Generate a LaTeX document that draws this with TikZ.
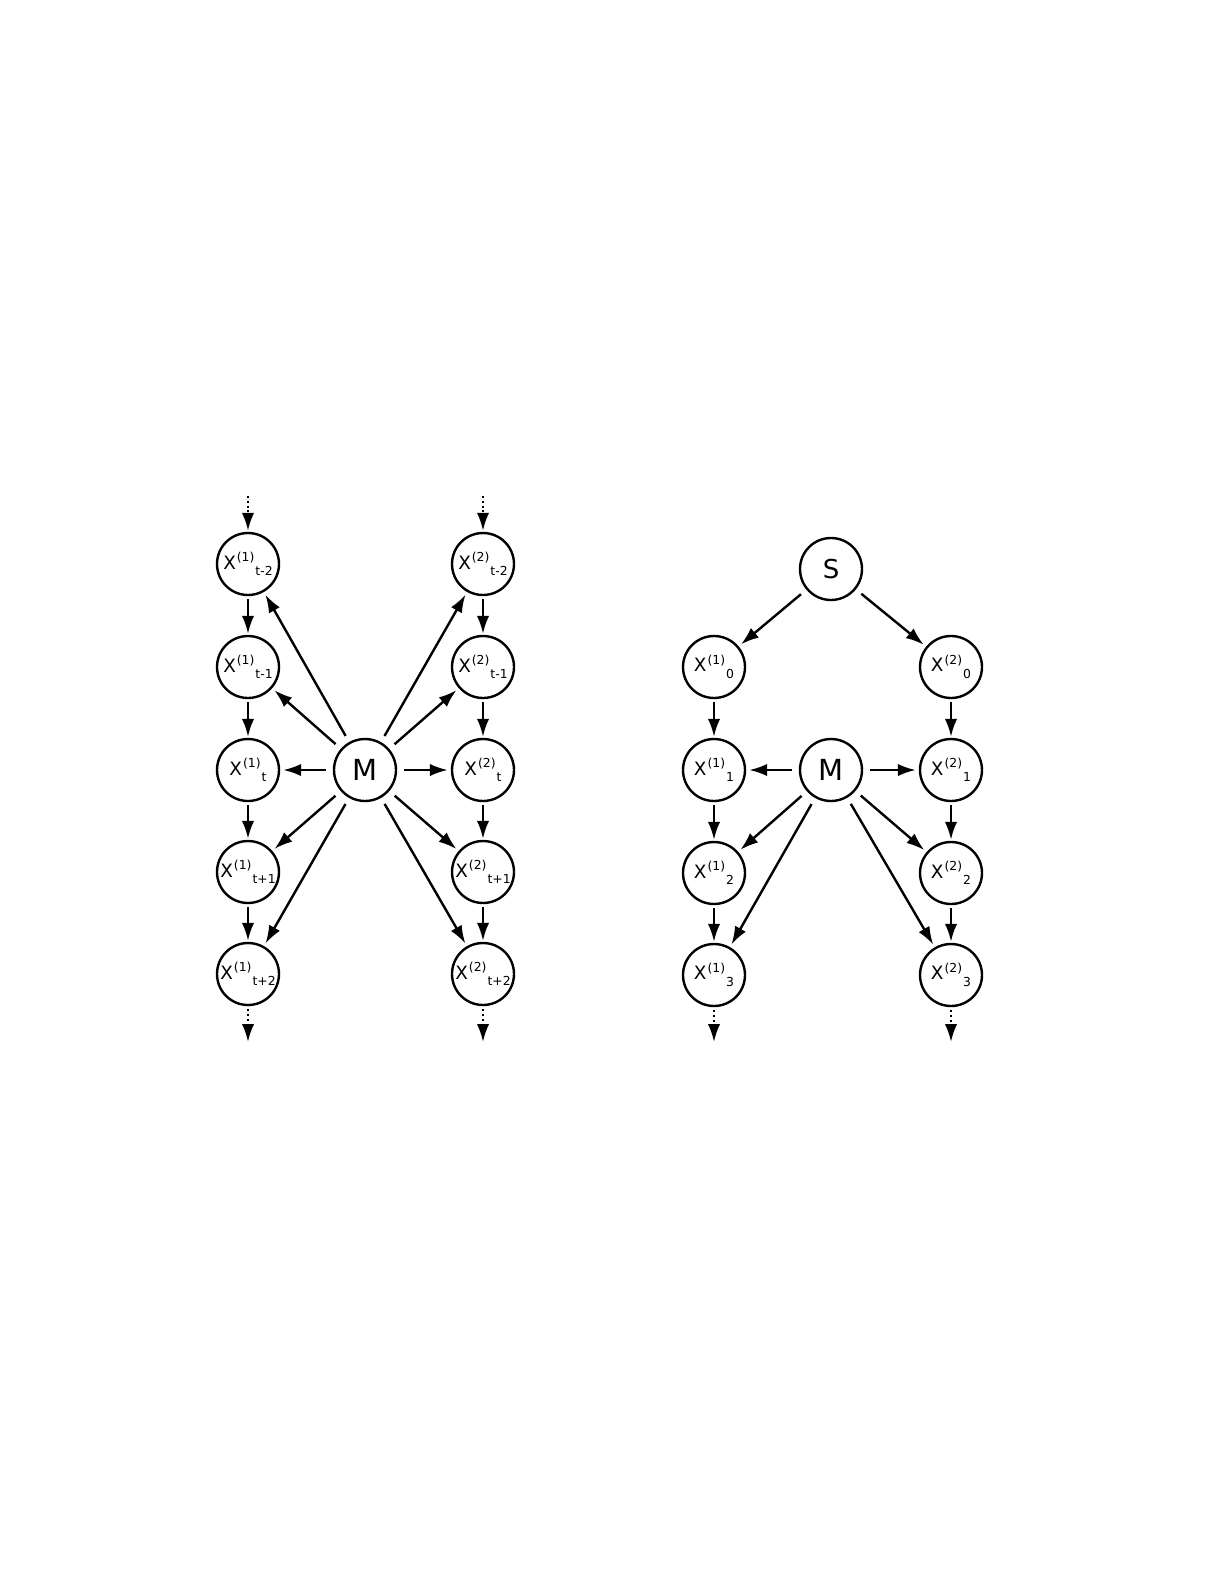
\documentclass[tikz,border=0pt]{standalone}
\usepackage{fontspec}
\setmainfont{DejaVu Sans}
\usetikzlibrary{arrows.meta}
\newcommand{\xlab}[2]{\fontsize{9.2}{9.5}\selectfont X\hspace{0.5pt}\raisebox{3.7pt}{\fontsize{6.2}{6.5}\selectfont(#1)}\hspace{0.5pt}\raisebox{-3.4pt}{\fontsize{6.2}{6.5}\selectfont#2}}
\tikzset{
  var/.style={circle,draw,line width=1.2pt,minimum size=31pt,inner sep=0pt},
  arr/.style={line width=1.2pt,-{Latex[length=9pt,width=6.2pt]},shorten <=1.5pt,shorten >=0.5pt},
  marr/.style={arr,shorten <=3.5pt,shorten >=1.5pt},
  dotarr/.style={arr,dash pattern=on 1pt off 1.4pt},
  bigM/.style={font=\fontsize{14.5}{15}\selectfont},
  bigS/.style={font=\fontsize{13}{14}\selectfont}
}
\begin{document}
\begin{tikzpicture}[x=0.5pt,y=-0.5pt]
\useasboundingbox (0,0) rectangle (1225,1585);
% ---------- left diagram ----------
\node[var] (a1) at (248,564) {\xlab{1}{t-2}};
\node[var] (a2) at (248,667) {\xlab{1}{t-1}};
\node[var] (a3) at (248,770) {\xlab{1}{t}};
\node[var] (a4) at (248,872) {\xlab{1}{t+1}};
\node[var] (a5) at (248,974) {\xlab{1}{t+2}};
\node[var] (b1) at (483,564) {\xlab{2}{t-2}};
\node[var] (b2) at (483,667) {\xlab{2}{t-1}};
\node[var] (b3) at (483,770) {\xlab{2}{t}};
\node[var] (b4) at (483,872) {\xlab{2}{t+1}};
\node[var] (b5) at (483,974) {\xlab{2}{t+2}};
\node[var,bigM] (m1) at (365,770) {M};
\coordinate (atop) at (248,493);
\coordinate (btop) at (483,493);
\coordinate (abot) at (248,1043);
\coordinate (bbot) at (483,1043);
\draw[dotarr] (atop) -- (a1);
\draw[dotarr] (btop) -- (b1);
\draw[dotarr] (a5) -- (abot);
\draw[dotarr] (b5) -- (bbot);
\foreach \u/\v in {a1/a2,a2/a3,a3/a4,a4/a5,b1/b2,b2/b3,b3/b4,b4/b5}
  \draw[arr] (\u) -- (\v);
\foreach \v in {a1,a2,a3,a4,a5,b1,b2,b3,b4,b5}
  \draw[marr] (m1) -- (\v);
% ---------- right diagram ----------
\node[var,bigS] (s) at (831,569) {S};
\node[var] (c0) at (714,667) {\xlab{1}{0}};
\node[var] (c1) at (714,770) {\xlab{1}{1}};
\node[var] (c2) at (714,873) {\xlab{1}{2}};
\node[var] (c3) at (714,975) {\xlab{1}{3}};
\node[var] (d0) at (951,667) {\xlab{2}{0}};
\node[var] (d1) at (951,770) {\xlab{2}{1}};
\node[var] (d2) at (951,873) {\xlab{2}{2}};
\node[var] (d3) at (951,975) {\xlab{2}{3}};
\node[var,bigM] (m2) at (831,770) {M};
\coordinate (cbot) at (714,1043);
\coordinate (dbot) at (951,1043);
\draw[marr] (s) -- (c0);
\draw[marr] (s) -- (d0);
\foreach \u/\v in {c0/c1,c1/c2,c2/c3,d0/d1,d1/d2,d2/d3}
  \draw[arr] (\u) -- (\v);
\foreach \v in {c1,c2,c3,d1,d2,d3}
  \draw[marr] (m2) -- (\v);
\draw[dotarr] (c3) -- (cbot);
\draw[dotarr] (d3) -- (dbot);
\end{tikzpicture}
\end{document}
